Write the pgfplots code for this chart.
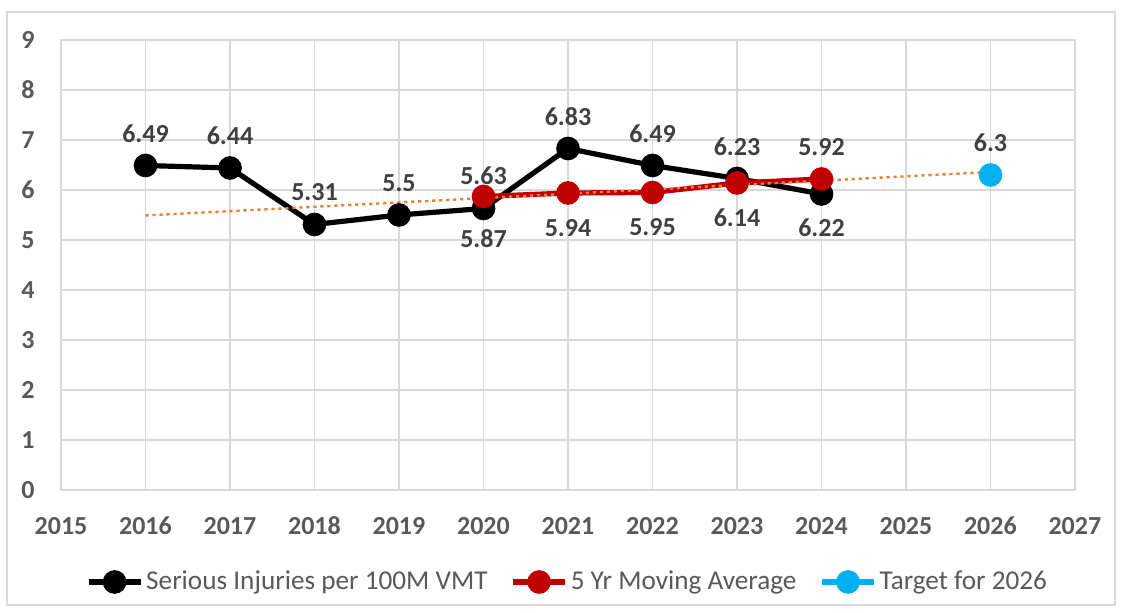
\documentclass[border=0pt]{standalone}
\usepackage{pgfplots}
\pgfplotsset{compat=1.18}
\usepackage{pgfplotstable}
\usepackage{fontspec}
\setmainfont{Carlito}
\definecolor{gridgray}{HTML}{D9D9D9}
\definecolor{tickgray}{HTML}{595959}
\definecolor{labgray}{HTML}{404040}
\definecolor{exred}{HTML}{C00000}
\definecolor{exblue}{HTML}{00B0F0}
\definecolor{exorange}{HTML}{ED7D31}
\pgfplotstableread{
x y dy
2016 6.49 16
2017 6.44 16
2018 5.31 16
2019 5.5 16
2020 5.63 16.5
2021 6.83 16
2022 6.49 16
2023 6.23 16
2024 5.92 23.5
}\serious
\pgfplotstableread{
x y dy
2020 5.87 -21
2021 5.94 -17.5
2022 5.95 -17.5
2023 6.14 -17.5
2024 6.22 -24.5
}\movavg
\pgfplotstableread{
x y dy
2026 6.3 16
}\target
\pgfplotsset{lbl/.style={
  nodes near coords,
  visualization depends on={\thisrow{dy} \as \dy},
  every node near coord/.append style={font=\bfseries\fontsize{13}{13}\selectfont, text=labgray, anchor=center, yshift={\dy*1pt}, inner sep=0pt}}}
\begin{document}
\begin{tikzpicture}
\path[use as bounding box] (0,0) rectangle (561pt,306.5pt);
\draw[gridgray, line width=0.6pt] (3.5pt,4pt) rectangle (557.5pt,300.5pt);
\begin{axis}[
  at={(30.5pt,61.5pt)}, anchor=south west,
  scale only axis, width=507pt, height=225pt,
  xmin=2015, xmax=2027, ymin=0, ymax=9,
  xtick={2015,...,2027}, ytick={0,...,9},
  grid=major, major grid style={gridgray, line width=0.7pt},
  axis line style={gridgray, line width=0.7pt},
  major tick length=0pt,
  /pgf/number format/1000 sep={},
  /pgf/number format/assume math mode=true,
  tick label style={font=\bfseries\fontsize{13}{13}\selectfont, text=tickgray, inner sep=0pt},
  xticklabel style={anchor=center, yshift=-18pt},
  yticklabel style={anchor=east, xshift=-13pt},
  legend style={at={(axis description cs:0.5,0)}, yshift=-46pt, anchor=center, draw=none, fill=none,
    legend columns=3, font=\fontsize{13.6}{13.6}\selectfont, text=tickgray,
    /tikz/every even column/.append style={column sep=10pt},
    nodes={inner sep=1.5pt}},
  legend image code/.code={\draw[mark repeat=2,mark phase=2] plot coordinates {(0pt,0pt)(13pt,0pt)(26pt,0pt)};},
]
\addplot[black, line width=2.6pt, mark=*, mark size=4.6pt, mark options={fill=black}, lbl] table[x=x,y=y] {\serious};
\addlegendentry{Serious Injuries per 100M VMT}
\addplot[exred, line width=2.6pt, mark=*, mark size=4.6pt, mark options={fill=exred}, lbl] table[x=x,y=y] {\movavg};
\addlegendentry{5 Yr Moving Average}
\addplot[exblue, line width=2.6pt, mark=*, mark size=4.6pt, mark options={fill=exblue}, lbl] table[x=x,y=y] {\target};
\addlegendentry{Target for 2026}
\addplot[exorange, line width=1.2pt, dash pattern=on 1.6pt off 1.9pt, forget plot] coordinates {(2016,5.49) (2026,6.36)};
\end{axis}
\end{tikzpicture}
\end{document}
